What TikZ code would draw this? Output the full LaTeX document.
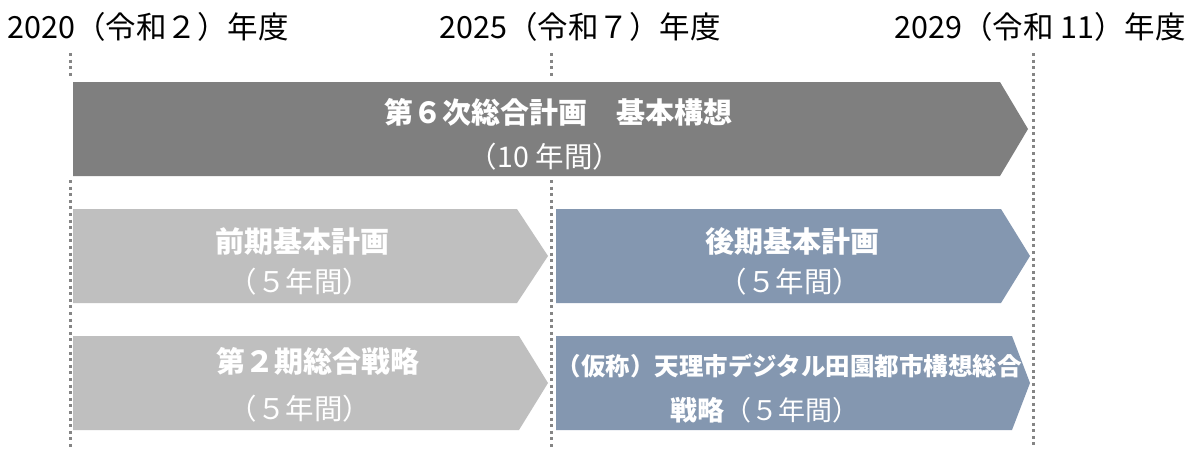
\documentclass[tikz,border=0pt]{standalone}
\usepackage{fontspec}
\setmainfont{Noto Sans CJK JP}
\definecolor{arrowgray}{HTML}{7F7F7F}
\definecolor{lightgray}{HTML}{BFBFBF}
\definecolor{bluegray}{HTML}{8497B0}
\definecolor{dotgray}{HTML}{858585}
\begin{document}
\begin{tikzpicture}[x=1pt,y=-1pt]
\tikzset{
  dotline/.style={draw=dotgray, line width=3pt, dash pattern=on 3pt off 3.6pt},
  yearlabel/.style={text=black, font=\fontsize{30.5}{34}\selectfont, inner sep=0pt},
  titletext/.style={text=white, font=\bfseries\fontsize{29}{33}\selectfont, inner sep=0pt},
  subtext/.style={text=white, font=\fontsize{28.5}{33}\selectfont, inner sep=0pt},
  smalltitle/.style={text=white, font=\bfseries\fontsize{24.5}{28}\selectfont, inner sep=0pt},
  smallsub/.style={text=white, font=\fontsize{27}{31}\selectfont, inner sep=0pt},
}
\useasboundingbox (0,0) rectangle (1188,448);
\fill[white] (0,0) rectangle (1188,448);

% year labels
\node[yearlabel] (y2020) at (148,27) {2020（令和２）年度};
\node[yearlabel] (y2025) at (580,27) {2025（令和７）年度};
\node[yearlabel] (y2029) at (1040,27) {2029（令和 11）年度};

% dotted guide lines
\coordinate (l1a) at (70,53);  \coordinate (l1b) at (70,77);
\coordinate (l1c) at (70,180); \coordinate (l1d) at (70,448);
\coordinate (l2a) at (551,53);  \coordinate (l2b) at (551,77);
\coordinate (l2c) at (551,180); \coordinate (l2d) at (551,448);
\coordinate (l3a) at (1033,53); \coordinate (l3d) at (1033,448);
\draw[dotline] (l1a) -- (l1b);
\draw[dotline] (l1c) -- (l1d);
\draw[dotline] (l2a) -- (l2b);
\draw[dotline] (l2c) -- (l2d);
\draw[dotline] (l3a) -- (l3d);

% top arrow
\fill[arrowgray] (73,82) -- (1000,82) -- (1028,129) -- (1000,176) -- (73,176) -- cycle;
\node[titletext] (t1) at (558,112) {第６次総合計画　基本構想};
\node[subtext] (s1) at (545,157) {（10 年間）};

% row 2
\fill[lightgray] (73,209) -- (517,209) -- (548,256) -- (517,303) -- (73,303) -- cycle;
\node[titletext] (t2) at (302,241) {前期基本計画};
\node[subtext] (s2) at (300,282) {（５年間）};
\fill[bluegray] (556,209) -- (1001,209) -- (1030,256) -- (1001,303) -- (556,303) -- cycle;
\node[titletext] (t3) at (792,241) {後期基本計画};
\node[subtext] (s3) at (790,282) {（５年間）};

% row 3
\fill[lightgray] (73,336) -- (519,336) -- (548,383) -- (519,430) -- (73,430) -- cycle;
\node[titletext] (t4) at (318,361) {第２期総合戦略};
\node[subtext] (s4) at (300,409) {（５年間）};
\fill[bluegray] (556,336) -- (1012,336) -- (1030,383) -- (1012,430) -- (556,430) -- cycle;
\node[smalltitle] (t5) at (789,366) {（仮称）天理市デジタル田園都市構想総合};
\node[smallsub] (s5) at (765,410) {\textbf{戦略}（５年間）};
\end{tikzpicture}
\end{document}
